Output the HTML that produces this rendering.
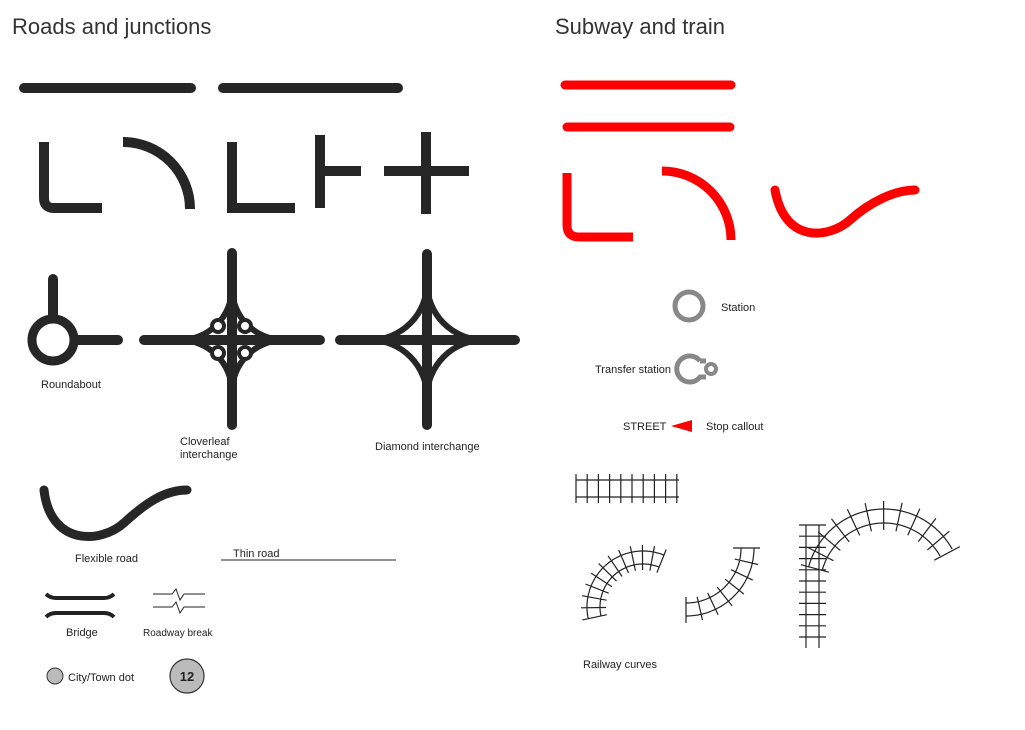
<!DOCTYPE html>
<html><head><meta charset="utf-8"><style>
body{margin:0;background:#fff}
svg text{font-family:"Liberation Sans",sans-serif;fill:#222}
</style></head><body>
<svg id="s" width="1025" height="725" viewBox="0 0 1025 725" xmlns="http://www.w3.org/2000/svg">
<text x="12" y="34" font-size="22" style="fill:#333">Roads and junctions</text>
<text x="555" y="34" font-size="22" style="fill:#333">Subway and train</text>
<g stroke="#262626" stroke-width="10" fill="none" stroke-linecap="round">
<line x1="24" y1="88" x2="191" y2="88"/>
<line x1="223" y1="88" x2="398" y2="88"/>
<path d="M44,142 V198 Q44,208 54,208 H102" stroke-linecap="butt"/>
<path d="M123,142 A67,67 0 0 1 190,209" stroke-linecap="butt"/>
<path d="M232,142 V208 H295" stroke-linecap="butt"/>
<path d="M320,135 V208 M320,171 H361" stroke-linecap="butt"/>
<path d="M426,132 V214 M384,171 H469" stroke-linecap="butt"/>
<circle cx="53" cy="340" r="21" stroke-width="9"/>
<path d="M53,279 V318 M75,340 H118"/>
<path d="M232,253 V425 M144,340 H320"/>
<path d="M232,288 A52,52 0 0 1 180,340 M232,288 A52,52 0 0 0 284,340 M232,392 A52,52 0 0 0 180,340 M232,392 A52,52 0 0 1 284,340" stroke-width="6" stroke-linecap="butt"/>
<path d="M427,254 V425 M340,340 H515"/>
<path d="M427,283 A57,57 0 0 1 370,340 M427,283 A57,57 0 0 0 484,340 M427,397 A57,57 0 0 0 370,340 M427,397 A57,57 0 0 1 484,340" stroke-width="6" stroke-linecap="butt"/>
<path d="M44,490 C50,545 100,545 125,522 S168,490 187,490" stroke-width="9"/>
</g>
<g fill="#fff" stroke="#262626" stroke-width="4">
<circle cx="218" cy="326" r="6"/><circle cx="245" cy="326" r="6"/>
<circle cx="218" cy="353" r="6"/><circle cx="245" cy="353" r="6"/>
</g>
<g font-size="11">
<text x="41" y="388">Roundabout</text>
<text x="180" y="445">Cloverleaf</text><text x="180" y="458">interchange</text>
<text x="375" y="450">Diamond interchange</text>
<text x="75" y="562">Flexible road</text>
<text x="233" y="557">Thin road</text>
<text x="66" y="636">Bridge</text>
<text x="143" y="636" font-size="10">Roadway break</text>
<text x="68" y="681">City/Town dot</text>
<text x="721" y="311">Station</text>
<text x="595" y="373">Transfer station</text>
<text x="623" y="430">STREET</text>
<text x="706" y="430">Stop callout</text>
<text x="583" y="668">Railway curves</text>
</g>
<line x1="221" y1="560" x2="396" y2="560" stroke="#222" stroke-width="1"/>
<g stroke="#222" fill="none">
<path d="M46,594 Q50,598 56,598 H104 Q110,598 114,594" stroke-width="4"/>
<path d="M46,617 Q50,613 56,613 H104 Q110,613 114,617" stroke-width="4"/>
<path d="M153,594 H172 L176,589 L180,600 L184,594 H205" stroke-width="1"/>
<path d="M153,607 H172 L176,602 L180,613 L184,607 H205" stroke-width="1"/>
</g>
<circle cx="55" cy="676" r="8" fill="#bbb" stroke="#333" stroke-width="1"/>
<circle cx="187" cy="676" r="17" fill="#bbb" stroke="#333" stroke-width="1.2"/>
<text x="187" y="681" font-size="13" font-weight="bold" text-anchor="middle">12</text>
<g stroke="#f00" stroke-width="9" fill="none" stroke-linecap="round">
<line x1="565" y1="85" x2="731" y2="85"/>
<line x1="567" y1="127" x2="730" y2="127"/>
<path d="M567,173 V225 Q567,237 579,237 H633" stroke-linecap="butt"/>
<path d="M662,171 A69,69 0 0 1 731,240" stroke-linecap="butt"/>
<path d="M775,190 C785,245 830,238 850,220 S895,190 915,190"/>
</g>
<circle cx="689" cy="306" r="14" fill="none" stroke="#888" stroke-width="5"/>
<path d="M700,361 A13,13 0 1 0 700,377 L706,377 M700,361 L706,361" fill="none" stroke="#888" stroke-width="5"/>
<circle cx="711" cy="369" r="5" fill="none" stroke="#888" stroke-width="4"/>
<polygon points="671,426 692,420 692,432" fill="#f00"/>
<g id="rail" stroke="#222" stroke-width="1.2" fill="none"></g>
</svg>
<script>
var g=document.getElementById('rail'),d='';
function L(a,b,c,e){d+='M'+a.toFixed(1)+','+b.toFixed(1)+'L'+c.toFixed(1)+','+e.toFixed(1);}
L(576,480,679,480);L(576,497,679,497);
for(var x=576;x<=677;x+=11.2)L(x,474,x,503);
function arc(cx,cy,r1,r2,a0,a1,ra,rb,n){
 var k=Math.PI/180;
 [r1,r2].forEach(function(r){var p=[];for(var a=a0;a<=a1+0.01;a+=2)p.push((cx+r*Math.cos(a*k)).toFixed(1)+','+(cy+r*Math.sin(a*k)).toFixed(1));d+='M'+p.join('L');});
 for(var i=0;i<=n;i++){var a=(a0+(a1-a0)*i/n)*k;L(cx+ra*Math.cos(a),cy+ra*Math.sin(a),cx+rb*Math.cos(a),cy+rb*Math.sin(a));}
}
arc(643,607,43,56,168,292,37,62,11);
arc(686,548,55,68,0,90,50,74,7);
L(686,597,686,623);L(733,548,760,548);
arc(884,587,64,78,195,332,57,86,11);
L(806,525,806,648);L(819,525,819,648);
for(var y=525;y<=648;y+=11.2)L(799,y,826,y);
var p=document.createElementNS('http://www.w3.org/2000/svg','path');p.setAttribute('d',d);g.appendChild(p);
</script>
</body></html>
